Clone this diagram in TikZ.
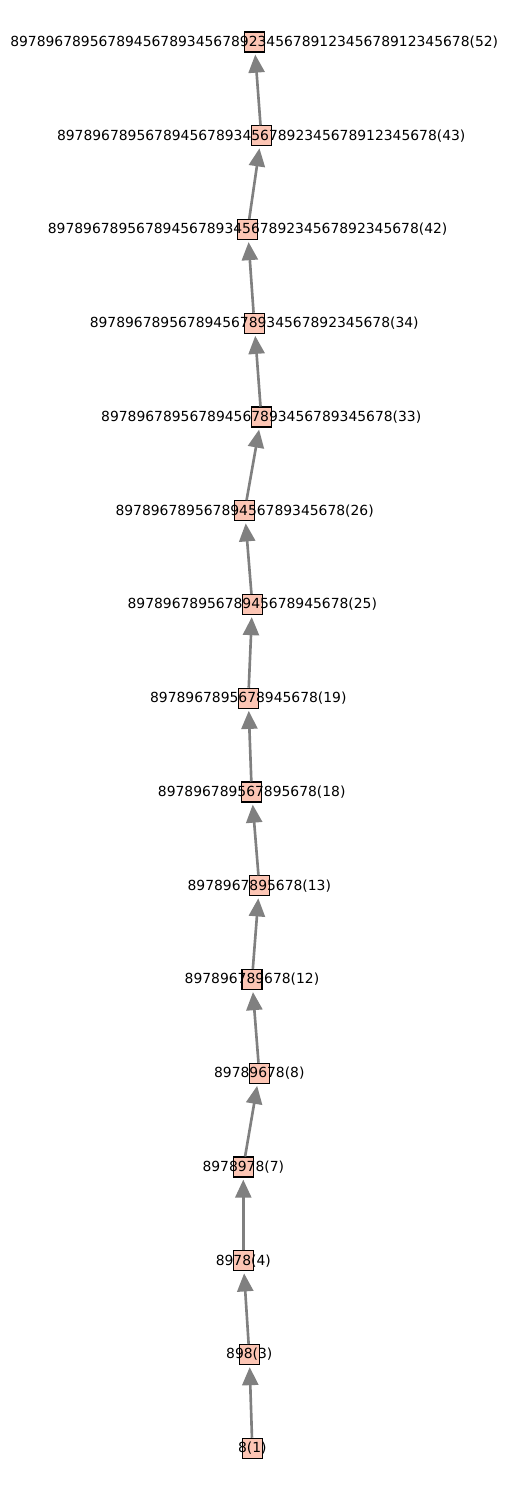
\documentclass[tikz,border=0pt]{standalone}
\usepackage{fontspec}
\setmainfont{DejaVu Sans}
\usepackage{tikz}
\usetikzlibrary{arrows.meta}
\definecolor{boxfill}{RGB}{252,197,180}
\definecolor{linkgray}{RGB}{128,128,128}

\begin{document}
\begin{tikzpicture}[x=0.72pt, y=-0.72pt, font=\fontsize{10}{12}\selectfont,
    sq/.style={draw=black, fill=boxfill, line width=0.75pt, minimum size=14.4pt, inner sep=0pt},
    link/.style={-{Triangle[length=13pt, width=11.5pt]}, line width=1.9pt, linkgray, shorten >=1.5pt}]
        \useasboundingbox (0,0) rectangle (507,1490);
        % Draw the squares with their labels
        \foreach \n/\px/\k/\txt in {
            52/254.3/0/8978967895678945678934567892345678912345678912345678(52),
            43/261.3/1/8978967895678945678934567892345678912345678(43),
            42/247.7/2/897896789567894567893456789234567892345678(42),
            34/254.3/3/8978967895678945678934567892345678(34),
            33/261.3/4/897896789567894567893456789345678(33),
            26/244.7/5/89789678956789456789345678(26),
            25/252.3/6/8978967895678945678945678(25),
            19/248.3/7/8978967895678945678(19),
            18/251.7/8/897896789567895678(18),
            13/259.3/9/8978967895678(13),
            12/252.0/10/897896789678(12),
            8/259.3/11/89789678(8),
            7/243.3/12/8978978(7),
            4/243.3/13/8978(4),
            3/249.3/14/898(3),
            1/252.3/15/8(1)}{
            \node[sq, label={[name=t\n]center:\txt}] (n\n) at (\px, 42+93.75*\k) {};
        }
        % Draw the arrows from each string to the next longer one
        \foreach \a/\b in {1/3, 3/4, 4/7, 7/8, 8/12, 12/13, 13/18, 18/19, 19/25, 25/26, 26/33, 33/34, 34/42, 42/43, 43/52}{
            \draw[link] (n\a) -- (n\b);
        }
    \end{tikzpicture}
\end{document}
